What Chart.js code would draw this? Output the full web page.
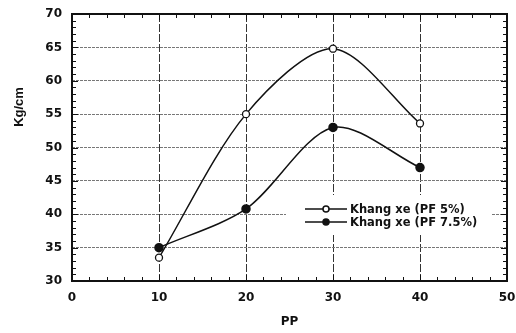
<!DOCTYPE html>
<html>
<head>
<meta charset="utf-8">
<script src="https://cdn.jsdelivr.net/npm/chart.js@4.4.1/dist/chart.umd.min.js"></script>
<style>
  html, body { margin: 0; padding: 0; background: #fff; }
  #wrap { width: 516px; height: 333px; }
</style>
</head>
<body>
<div id="wrap"><canvas id="chart" width="516" height="333"></canvas></div>
<script>
// values
const ppValues = [10, 20, 30, 40];
const pf5 = [33.5, 55.0, 64.8, 53.6];
const pf75 = [35.0, 40.8, 53.0, 47.0];
const seriesLabels = ["Khang xe (PF 5%)", "Khang xe (PF 7.5%)"];
const xTitle = "PP";
const yTitle = "Kg/cm";

const toPoints = (ys) => ppValues.map((x, i) => ({ x: x, y: ys[i] }));

// frame, inward minor ticks, y title and the boxed legend
const decorations = {
  id: "decorations",
  afterDatasetsDraw(chart) {
    const ctx = chart.ctx;
    const a = chart.chartArea;
    const xs = chart.scales.x;
    const ys = chart.scales.y;
    ctx.save();
    ctx.strokeStyle = "#111";
    ctx.lineWidth = 1;
    ctx.beginPath();
    for (let v = 0; v <= 50; v += 2) {
      const px = Math.round(xs.getPixelForValue(v)) + 0.5;
      const len = v % 10 === 0 ? 6 : 4;
      ctx.moveTo(px, a.bottom); ctx.lineTo(px, a.bottom - len);
      ctx.moveTo(px, a.top); ctx.lineTo(px, a.top + len);
    }
    for (let v = 30; v <= 70; v += 1) {
      const py = Math.round(ys.getPixelForValue(v)) + 0.5;
      const len = v % 5 === 0 ? 6 : 4;
      ctx.moveTo(a.left, py); ctx.lineTo(a.left + len, py);
      ctx.moveTo(a.right, py); ctx.lineTo(a.right - len, py);
    }
    ctx.stroke();

    ctx.lineWidth = 2;
    ctx.strokeRect(a.left, a.top, a.right - a.left, a.bottom - a.top);

    // y axis title
    ctx.fillStyle = "#111";
    ctx.font = "bold 13px 'Liberation Sans', Arial, sans-serif";
    ctx.textAlign = "center";
    ctx.textBaseline = "middle";
    ctx.translate(19, 107);
    ctx.rotate(-Math.PI / 2);
    ctx.fillText(yTitle, 0, 0);
    ctx.restore();

    // legend inside the plot
    ctx.save();
    ctx.fillStyle = "#fff";
    ctx.fillRect(286, 195, 206, 40);
    ctx.font = "bold 11.5px 'DejaVu Sans', sans-serif";
    ctx.textBaseline = "middle";
    ctx.textAlign = "left";
    chart.data.datasets.forEach((ds, i) => {
      const y = 209 + i * 13;
      ctx.strokeStyle = "#111";
      ctx.lineWidth = 1.5;
      ctx.beginPath();
      ctx.moveTo(305, y); ctx.lineTo(347, y);
      ctx.stroke();
      ctx.beginPath();
      ctx.arc(326, y, 3, 0, Math.PI * 2);
      ctx.fillStyle = ds.pointBackgroundColor;
      ctx.fill();
      ctx.stroke();
      ctx.fillStyle = "#111";
      ctx.fillText(ds.label, 350, y + 1);
    });
    ctx.restore();
  }
};

const tickFont = { family: "'DejaVu Sans', sans-serif", size: 12, weight: "bold" };

new Chart(document.getElementById("chart").getContext("2d"), {
  type: "line",
  data: {
    datasets: [
      {
        label: seriesLabels[0],
        data: toPoints(pf5),
        borderColor: "#111",
        borderWidth: 1.5,
        pointRadius: 3.5,
        pointBackgroundColor: "#fff",
        pointBorderColor: "#111",
        pointBorderWidth: 1.3,
        tension: 0.3,
        fill: false
      },
      {
        label: seriesLabels[1],
        data: toPoints(pf75),
        borderColor: "#111",
        borderWidth: 1.5,
        pointRadius: 4,
        pointBackgroundColor: "#111",
        pointBorderColor: "#111",
        tension: 0.3,
        fill: false
      }
    ]
  },
  options: {
    responsive: false,
    animation: false,
    layout: { padding: { left: 0, right: 9, top: 14, bottom: 0 } },
    plugins: {
      legend: { display: false },
      tooltip: { enabled: false }
    },
    scales: {
      x: {
        type: "linear",
        min: 0,
        max: 50,
        ticks: { stepSize: 10, color: "#111", font: tickFont, padding: 10, maxRotation: 0 },
        grid: { color: "#333", lineWidth: 1, drawTicks: false },
        border: { display: false, dash: [8, 2] },
        title: { display: true, text: xTitle, color: "#111", font: tickFont, padding: { top: 0, bottom: 4 } },
        afterFit: (s) => { s.height = 52; s.paddingLeft = 0; s.paddingRight = 0; }
      },
      y: {
        min: 30,
        max: 70,
        ticks: { stepSize: 5, color: "#111", font: tickFont, padding: 10 },
        grid: { color: "#777", lineWidth: 1, drawTicks: false },
        border: { display: false, dash: [3, 1] },
        afterFit: (s) => { s.width = 72; s.paddingTop = 0; s.paddingBottom = 0; }
      }
    }
  },
  plugins: [decorations]
});
</script>
</body>
</html>
